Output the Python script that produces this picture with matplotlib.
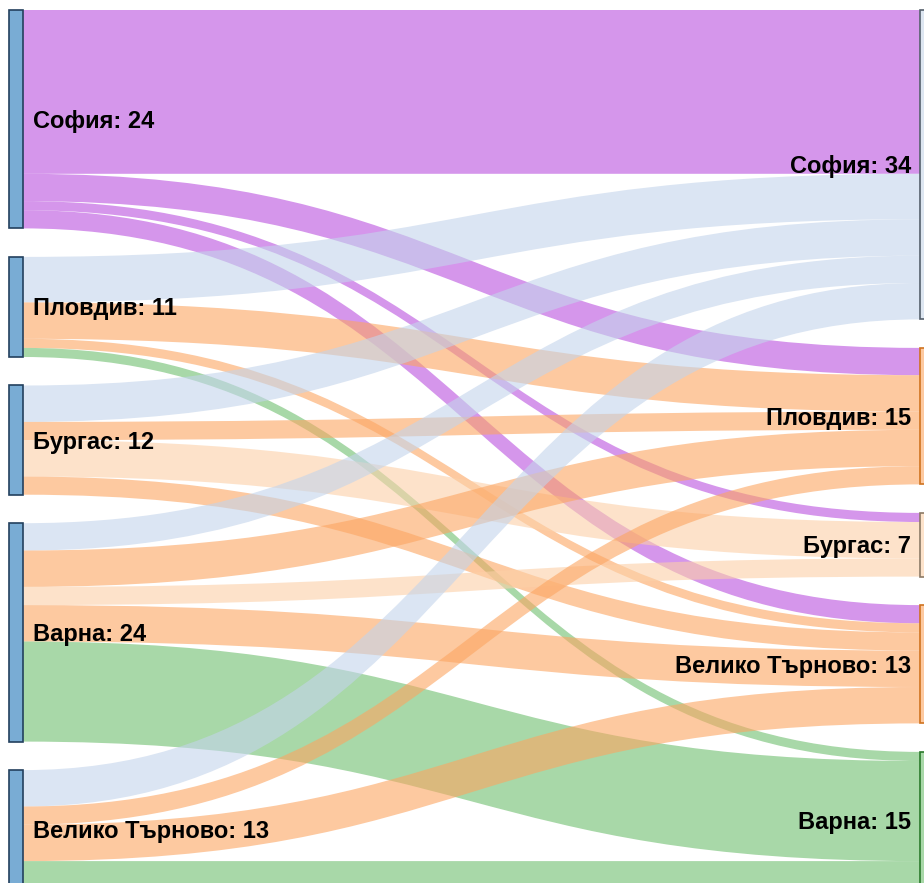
import matplotlib.pyplot as plt
from matplotlib.path import Path
from matplotlib.patches import PathPatch, Rectangle

plt.rcParams['font.family'] = ['Liberation Sans', 'DejaVu Sans']

# Nodes (left = origin, right = destination) and flows between them
left_nodes = ["София", "Пловдив", "Бургас", "Варна", "Велико Търново"]
right_nodes = ["София", "Пловдив", "Бургас", "Велико Търново", "Варна"]

# rows: left nodes, columns: right nodes
flows = [
    [18, 3, 1, 2, 0],   # София
    [5, 4, 0, 1, 1],    # Пловдив
    [4, 2, 4, 2, 0],    # Бургас
    [3, 4, 2, 4, 11],   # Варна
    [4, 2, 0, 4, 3],    # Велико Търново
]

# colours
purple = (185/255, 80/255, 222/255, 0.6)
target_colors = {
    "София": (195/255, 212/255, 235/255, 0.6),
    "Пловдив": (252/255, 165/255, 97/255, 0.6),
    "Бургас": (252/255, 208/255, 168/255, 0.6),
    "Велико Търново": (252/255, 165/255, 97/255, 0.6),
    "Варна": (110/255, 190/255, 110/255, 0.6),
}
right_fill = {
    "София": "#dde6f1",
    "Пловдив": "#fdc9a0",
    "Бургас": "#fde3cb",
    "Велико Търново": "#fdc9a0",
    "Варна": "#a8d8a8",
}
right_edge = {
    "София": "#55606c",
    "Пловдив": "#d0731f",
    "Бургас": "#8c7a66",
    "Велико Търново": "#d0731f",
    "Варна": "#2b7a2b",
}

px = 9.1            # pixels per unit of flow
pad = 10 / px       # top padding in flow units
gap = 28.5 / px     # gap between nodes in flow units
x_left0, x_left1 = 9, 23
x_right0, x_right1 = 920, 934
label_dy = 2 / px   # small nudge so labels sit on the node centre

left_tot = [sum(r) for r in flows]
right_tot = [sum(flows[i][j] for i in range(len(left_nodes))) for j in range(len(right_nodes))]


def stack(totals):
    tops = []
    y = pad
    for t in totals:
        tops.append(y)
        y += t + gap
    return tops


left_top = stack(left_tot)
right_top = stack(right_tot)

fig = plt.figure(figsize=(9.24, 8.83), dpi=100)
ax = fig.add_axes([0, 0, 1, 1])
ax.set_xlim(0, 924)
ax.set_ylim(883 / px, 0)
ax.axis('off')

# where each link lands on its target, stacked in source order
tgt_start = {}
for j in range(len(right_nodes)):
    y = right_top[j]
    for i in range(len(left_nodes)):
        tgt_start[(i, j)] = y
        y += flows[i][j]

# links
xm = (x_left1 + x_right0) / 2
for i, src in enumerate(left_nodes):
    y = left_top[i]
    for j, tgt in enumerate(right_nodes):
        v = flows[i][j]
        if v == 0:
            continue
        s0, s1 = y, y + v
        t0 = tgt_start[(i, j)]
        t1 = t0 + v
        y += v
        verts = [(x_left1, s0), (xm, s0), (xm, t0), (x_right0, t0),
                 (x_right0, t1), (xm, t1), (xm, s1), (x_left1, s1), (x_left1, s0)]
        codes = [Path.MOVETO, Path.CURVE4, Path.CURVE4, Path.CURVE4,
                 Path.LINETO, Path.CURVE4, Path.CURVE4, Path.CURVE4, Path.CLOSEPOLY]
        color = purple if src == "София" else target_colors[tgt]
        ax.add_patch(PathPatch(Path(verts, codes), facecolor=color, edgecolor='none'))

# nodes and labels
for i, name in enumerate(left_nodes):
    ax.add_patch(Rectangle((x_left0, left_top[i]), x_left1 - x_left0, left_tot[i],
                           facecolor="#79acd4", edgecolor="#23405e", linewidth=1.2))
    ax.text(33, left_top[i] + left_tot[i] / 2 + label_dy, f"{name}: {left_tot[i]}",
            ha='left', va='center', fontsize=17, fontweight='bold', color='black')

for j, name in enumerate(right_nodes):
    ax.add_patch(Rectangle((x_right0, right_top[j]), x_right1 - x_right0, right_tot[j],
                           facecolor=right_fill[name], edgecolor=right_edge[name], linewidth=1.2))
    ax.text(911, right_top[j] + right_tot[j] / 2 + label_dy, f"{name}: {right_tot[j]}",
            ha='right', va='center', fontsize=17, fontweight='bold', color='black')

fig.savefig("out.png", dpi=100)
